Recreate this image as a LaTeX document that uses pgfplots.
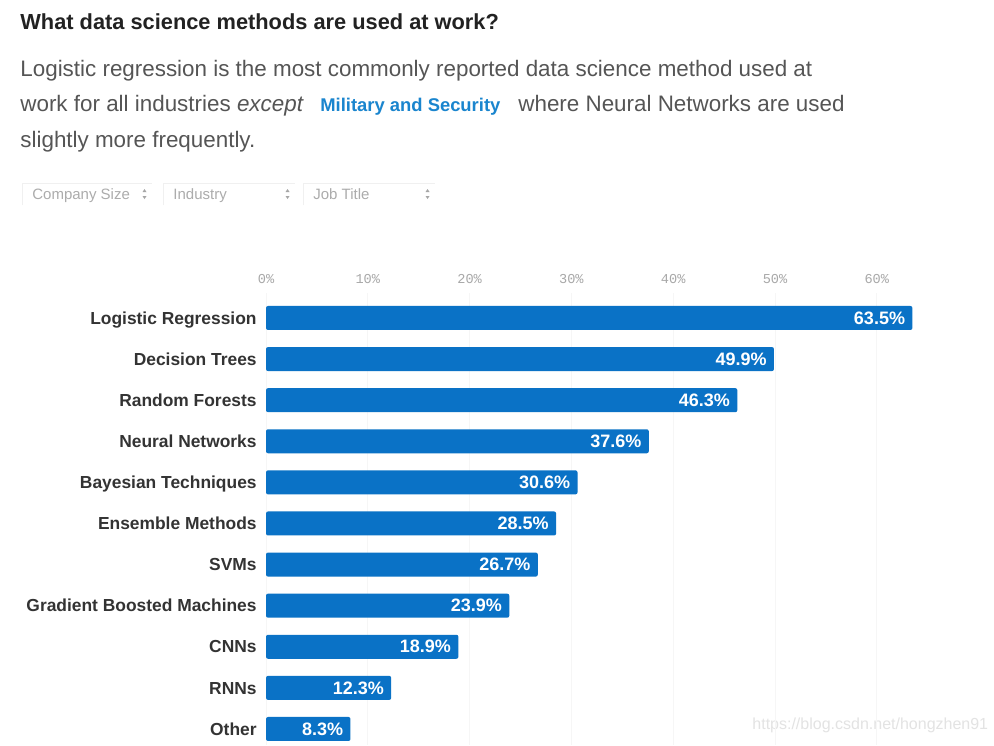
\documentclass[border=0pt]{standalone}
\usepackage{pgfplots}
\pgfplotsset{compat=1.18}
\usepackage{fontspec}
\setmainfont{Liberation Sans}
\setmonofont{Liberation Mono}
\definecolor{barblue}{HTML}{0A72C6}
\definecolor{linkblue}{HTML}{1A85CE}
\definecolor{titlegray}{HTML}{222222}
\definecolor{subgray}{HTML}{555555}
\definecolor{labgray}{HTML}{333333}
\definecolor{tickgray}{HTML}{A8A8A8}

\begin{document}
\begin{tikzpicture}
\path[use as bounding box, fill=white] (0,0) rectangle (497pt,-372.5pt);

% header text, in pixel units of the 994x745 reference
\begin{scope}[x=0.5pt,y=-0.5pt]
\node[anchor=base west, inner sep=0, text=titlegray,
  font=\fontsize{10.9}{13}\selectfont\bfseries] at (20,29.5)
  {What data science methods are used at work?};
\begin{scope}[every node/.style={anchor=base west, inner sep=0, text=subgray,
  font=\fontsize{11.2}{13}\selectfont}]
\node at (20,76.5) {Logistic regression is the most commonly reported data science method used at};
\node at (20,111.5) {work for all industries \textit{except}};
\node[text=linkblue, font=\fontsize{9.2}{11}\selectfont\bfseries] at (320,111.5) {Military and Security};
\node at (518,111.5) {where Neural Networks are used};
\node at (20,147.5) {slightly more frequently.};
\end{scope}
% filter boxes
\foreach \a/\b/\t in {22/152/Company Size,163/295/Industry,303/435/Job Title}{
  \draw[gray!12, line width=0.4pt] (\a,205) -- (\a,183) -- (\b,183);
  \node[anchor=base west, inner sep=0, text=gray!65, font=\fontsize{7.5}{9}\selectfont]
    at (\a+10,199) {\t};
  \fill[gray!70] (\b-9.5,192) -- (\b-5.5,192) -- (\b-7.5,189) -- cycle;
  \fill[gray!70] (\b-9.5,196) -- (\b-5.5,196) -- (\b-7.5,199) -- cycle;
}
\node[anchor=base west, inner sep=0, text=gray!22, font=\fontsize{8}{9}\selectfont]
  at (752,729) {https://blog.csdn.net/hongzhen91};
\end{scope}

\begin{axis}[
  at={(133pt,-146.65pt)}, anchor=north west,
  scale only axis, width=330.85pt, height=226.05pt,
  xbar, bar width=12pt,
  /pgf/number format/assume math mode=true,
  xmin=0, xmax=65, ymin=-0.6, ymax=10.4, y dir=reverse,
  axis line style={draw=none}, major tick length=0pt,
  xtick={0,10,...,60}, xticklabel pos=top,
  xticklabel={\pgfmathprintnumber{\tick}\%},
  xticklabel style={font=\ttfamily\fontsize{6.8}{8}\selectfont, text=tickgray, inner sep=0pt, yshift=4.6pt},
  xmajorgrids, grid style={gray!7, line width=0.4pt},
  ytick={0,...,10},
  yticklabels={Logistic Regression,Decision Trees,Random Forests,Neural Networks,Bayesian Techniques,Ensemble Methods,SVMs,Gradient Boosted Machines,CNNs,RNNs,Other},
  yticklabel style={font=\fontsize{8.7}{10}\selectfont\bfseries, text=labgray, inner sep=0pt,
    text height=0.72em, text depth=0.2em, xshift=-4.5pt, yshift=-0.5pt},
  nodes near coords={\pgfmathprintnumber[fixed,fixed zerofill,precision=1]{\pgfplotspointmeta}\%},
  every node near coord/.append style={anchor=east, xshift=-3.5pt, inner sep=0pt,
    text=white, font=\fontsize{9}{10}\selectfont\bfseries},
]
\addplot+[fill=barblue, draw=none, rounded corners=1pt] coordinates {
  (63.5,0) (49.9,1) (46.3,2) (37.6,3) (30.6,4) (28.5,5)
  (26.7,6) (23.9,7) (18.9,8) (12.3,9) (8.3,10)};
\end{axis}
\end{tikzpicture}
\end{document}
